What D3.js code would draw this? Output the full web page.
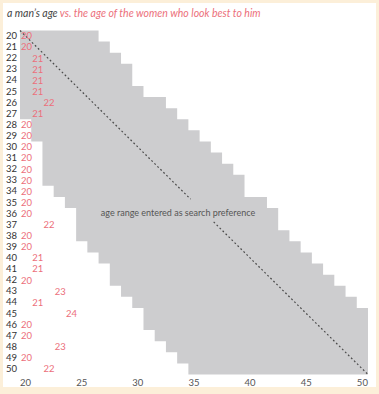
<!DOCTYPE html>
<html><head><meta charset="utf-8">
<script src="https://cdn.jsdelivr.net/npm/d3@7"></script>
<style>
html,body{margin:0;padding:0;background:#fcefd9;}
svg{display:block;}
text{font-family:Lato,"Open Sans",sans-serif;}
</style></head>
<body>
<svg id="chart" width="379" height="394"></svg>
<script>
// man's age (rows)
const mensAges = d3.range(20, 51);
// age of women who look best to him
const bestAge = [20,20,21,21,21,21,22,21,20,20,20,20,20,20,20,20,20,22,20,20,21,21,20,23,21,24,20,20,23,20,22];
// search preference range: youngest and oldest age entered
const rangeMin = [20,20,20,20,20,20,20,20,21,21,22,22,22,22,23,24,25,25,25,26,27,28,28,29,30,31,31,32,33,34,35];
const rangeMax = [26,27,28,29,29,30,32,33,34,35,36,37,38,39,39,41,42,42,43,44,45,46,47,48,49,50,50,50,50,50,50];
const xTicks = [20,25,30,35,40,45,50];
const titleA = "a man\u2019s age";
const titleB = " vs. the age of the women who look best to him";
const noteText = "age range entered as search preference";
const gapFrom = 35.2, gapTo = 37.25;

const svg = d3.select("#chart");
svg.append("rect").attr("x",3).attr("y",3).attr("width",373).attr("height",384).attr("fill","#ffffff");

const x = d3.scaleBand().domain(mensAges).range([20, 368]).padding(0);
const y = d3.scaleBand().domain(mensAges).range([30.5, 374.5]).padding(0);
const xl = d3.scaleLinear().domain([20, 51]).range([20, 368]);
const yl = d3.scaleLinear().domain([20, 51]).range([30.5, 374.5]);
const bw = x.bandwidth(), bh = y.bandwidth();

// gray staircase region
const pts = [];
mensAges.forEach((a,i)=>{ pts.push([x(rangeMin[i]), y(a)], [x(rangeMin[i]), y(a)+bh]); });
mensAges.slice().reverse().forEach(a=>{
  const i = mensAges.indexOf(a);
  pts.push([x(rangeMax[i])+bw, y(a)+bh], [x(rangeMax[i])+bw, y(a)]);
});
svg.append("path").attr("d", d3.line()(pts)+"Z").attr("fill","#cdcdcf");

// diagonal dotted line with gap for label
const segs = [[20, gapFrom],[gapTo, 51]];
svg.selectAll("line.diag").data(segs).join("line").attr("class","diag")
  .attr("x1",d=>xl(d[0])).attr("y1",d=>yl(d[0]))
  .attr("x2",d=>xl(d[1])).attr("y2",d=>yl(d[1]))
  .attr("stroke","#4a4a4a").attr("stroke-width",1.2).attr("stroke-dasharray","1.8,2.4");

svg.append("text").attr("x",178).attr("y",216).attr("text-anchor","middle")
  .attr("font-size","9px").attr("fill","#555").text(noteText);

// red best-age numbers
svg.selectAll("text.best").data(mensAges).join("text").attr("class","best")
  .attr("x",(a,i)=>x(bestAge[i])+bw/2+1).attr("y",a=>y(a)+bh/2)
  .attr("dy","0.35em").attr("text-anchor","middle")
  .attr("font-size","9.5px").attr("fill","#ec6f7b").text((a,i)=>bestAge[i]);

// left axis (man's age)
const gy = svg.append("g").attr("transform","translate(20,0)")
  .call(d3.axisLeft(y).tickSize(0).tickPadding(0));
gy.select(".domain").remove();
gy.selectAll("text").attr("text-anchor","start").attr("x",-14)
  .attr("font-family","Lato,sans-serif").attr("font-size","9.5px").attr("fill","#333");

// bottom axis
const gx = svg.append("g").attr("transform","translate(0,378)")
  .call(d3.axisBottom(x).tickValues(xTicks).tickSize(0).tickPadding(0));
gx.select(".domain").remove();
gx.selectAll("text").attr("dy","0.71em").attr("y",1)
  .attr("font-family","Lato,sans-serif").attr("font-size","9.5px").attr("fill","#555");

// title
const t = svg.append("text").attr("x",7).attr("y",17).attr("font-size","10.5px").attr("font-style","italic");
t.append("tspan").attr("fill","#444").text(titleA);
t.append("tspan").attr("fill","#ec6f7b").text(titleB);
</script>
</body></html>
